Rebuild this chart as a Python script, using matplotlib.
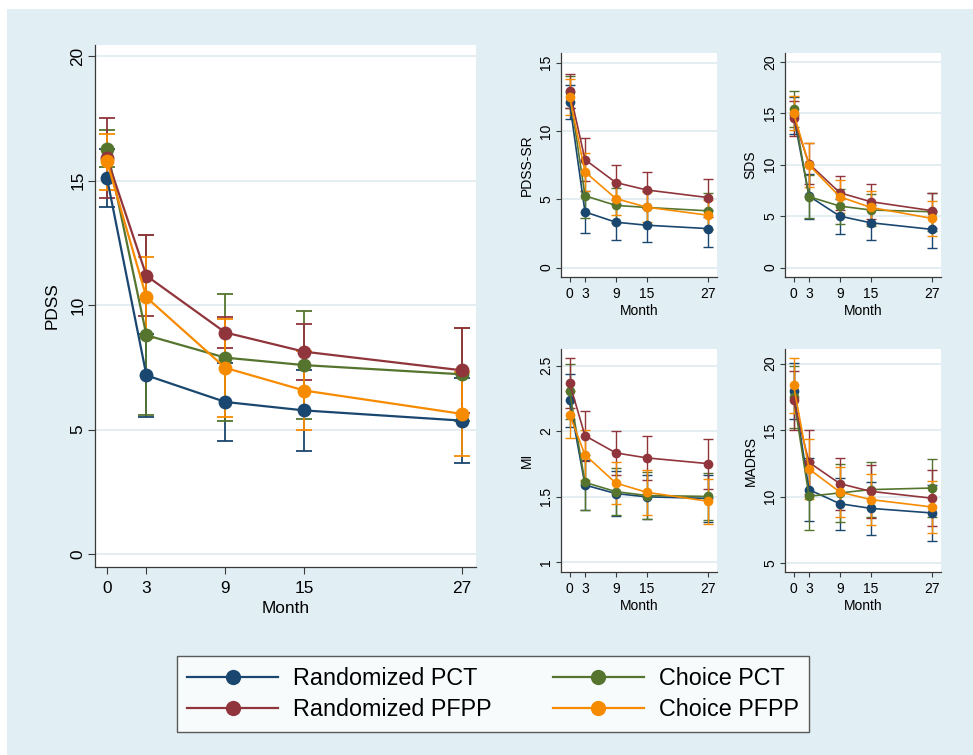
import matplotlib
matplotlib.use("Agg")
import matplotlib.pyplot as plt
from matplotlib.patches import Rectangle
from matplotlib.lines import Line2D
import numpy as np

plt.rcParams['font.family'] = ['Liberation Sans', 'DejaVu Sans']

months = [0, 3, 9, 15, 27]
groups = ["Randomized PCT", "Randomized PFPP", "Choice PCT", "Choice PFPP"]
colors = ["#1a476f", "#90353b", "#55752f", "#f78b00"]

# ---- PDSS (main) : mean, lower, upper ----
pdss_mean = {
    "Randomized PCT":  [15.11, 7.18, 6.11, 5.77, 5.36],
    "Randomized PFPP": [15.91, 11.18, 8.90, 8.13, 7.38],
    "Choice PCT":      [16.28, 8.79, 7.89, 7.59, 7.22],
    "Choice PFPP":     [15.78, 10.31, 7.48, 6.57, 5.63],
}
pdss_lo = {
    "Randomized PCT":  [13.94, 5.52, 4.56, 4.14, 3.65],
    "Randomized PFPP": [14.31, 9.55, 8.26, 7.00, 5.66],
    "Choice PCT":      [15.53, 5.60, 5.33, 5.41, 5.34],
    "Choice PFPP":     [14.64, 8.67, 5.50, 5.00, 3.95],
}
pdss_hi = {
    "Randomized PCT":  [16.28, 8.84, 7.66, 7.40, 7.07],
    "Randomized PFPP": [17.50, 12.81, 9.54, 9.26, 9.10],
    "Choice PCT":      [17.03, 12.80, 10.45, 9.77, 9.10],
    "Choice PFPP":     [16.88, 11.95, 9.46, 8.14, 7.31],
}

# ---- small panels: mean and half-width of CI ----
sr_mean = {
    "Randomized PCT":  [12.10, 4.07, 3.32, 3.10, 2.85],
    "Randomized PFPP": [12.95, 7.90, 6.22, 5.68, 5.12],
    "Choice PCT":      [12.85, 5.25, 4.55, 4.40, 4.15],
    "Choice PFPP":     [12.50, 7.00, 5.05, 4.42, 3.83],
}
sr_hw = {
    "Randomized PCT":  [1.25, 1.55, 1.30, 1.25, 1.35],
    "Randomized PFPP": [1.25, 1.55, 1.27, 1.32, 1.39],
    "Choice PCT":      [1.20, 1.60, 1.30, 1.20, 1.30],
    "Choice PFPP":     [1.30, 1.40, 1.20, 1.10, 1.10],
}
sds_mean = {
    "Randomized PCT":  [14.80, 6.95, 5.00, 4.36, 3.71],
    "Randomized PFPP": [14.55, 10.10, 7.28, 6.41, 5.53],
    "Choice PCT":      [15.41, 6.90, 5.98, 5.60, 5.43],
    "Choice PFPP":     [15.02, 9.98, 6.89, 5.85, 4.78],
}
sds_hw = {
    "Randomized PCT":  [1.80, 2.20, 1.70, 1.70, 1.80],
    "Randomized PFPP": [1.70, 2.00, 1.66, 1.72, 1.70],
    "Choice PCT":      [1.73, 2.10, 1.70, 1.60, 1.85],
    "Choice PFPP":     [1.65, 2.10, 1.60, 1.60, 1.70],
}
mi_mean = {
    "Randomized PCT":  [2.235, 1.590, 1.525, 1.500, 1.488],
    "Randomized PFPP": [2.368, 1.966, 1.835, 1.797, 1.753],
    "Choice PCT":      [2.305, 1.610, 1.540, 1.510, 1.503],
    "Choice PFPP":     [2.127, 1.820, 1.605, 1.535, 1.466],
}
mi_hw = {
    "Randomized PCT":  [0.20, 0.19, 0.17, 0.17, 0.18],
    "Randomized PFPP": [0.19, 0.19, 0.17, 0.17, 0.19],
    "Choice PCT":      [0.21, 0.21, 0.18, 0.18, 0.18],
    "Choice PFPP":     [0.18, 0.19, 0.16, 0.17, 0.17],
}
madrs_mean = {
    "Randomized PCT":  [17.92, 10.52, 9.46, 9.11, 8.76],
    "Randomized PFPP": [17.24, 12.57, 10.97, 10.39, 9.87],
    "Choice PCT":      [17.49, 10.02, 10.27, 10.52, 10.64],
    "Choice PFPP":     [18.37, 12.07, 10.34, 9.77, 9.21],
}
madrs_hw = {
    "Randomized PCT":  [2.10, 2.40, 1.95, 1.98, 2.13],
    "Randomized PFPP": [2.20, 2.40, 1.95, 2.00, 2.10],
    "Choice PCT":      [2.30, 2.55, 2.20, 2.05, 2.20],
    "Choice PFPP":     [2.05, 2.25, 1.85, 1.90, 1.95],
}

W, H = 973, 755
fig = plt.figure(figsize=(W / 100, H / 100), dpi=100)
fig.patch.set_facecolor("white")
fig.add_artist(Rectangle((7 / W, 0), 1, 1 - 9 / H, transform=fig.transFigure,
                         facecolor="#e1eef4", edgecolor="none", zorder=0))

def ax_px(left, top, right, bottom):
    return fig.add_axes([left / W, 1 - bottom / H, (right - left) / W, (bottom - top) / H])

draw_order = [0, 2, 1, 3]

def style(ax, yticks, ylim, xlim, ylabel, fs, ticklen, xpad, xlabpad, ylabpad):
    ax.set_facecolor("white")
    for s in ["top", "right"]:
        ax.spines[s].set_visible(False)
    for s in ["left", "bottom"]:
        ax.spines[s].set_color("#3a3a3a")
        ax.spines[s].set_linewidth(0.9)
    ax.set_ylim(*ylim)
    ax.set_xlim(*xlim)
    ax.set_yticks(yticks)
    ax.set_xticks(months)
    ax.set_xticklabels([str(m) for m in months])
    ax.set_yticklabels([("%g" % t) for t in yticks], rotation=90, va="center")
    ax.tick_params(axis="both", direction="out", length=ticklen, width=0.8,
                   color="#3a3a3a", labelsize=fs, pad=2)
    ax.tick_params(axis="x", pad=xpad)
    ax.yaxis.grid(True, color="#e4edf1", linewidth=1.4)
    ax.set_axisbelow(True)
    ax.set_ylabel(ylabel, fontsize=fs, labelpad=ylabpad)
    ax.set_xlabel("Month", fontsize=fs, labelpad=xlabpad)

def plot_series(ax, means, lo, hi, ms, lw, cap, elw):
    for i in draw_order:
        g = groups[i]
        m = np.array(means[g]); l = np.array(lo[g]); h = np.array(hi[g])
        ax.errorbar(months, m, yerr=[m - l, h - m], fmt="none", ecolor=colors[i],
                    elinewidth=elw, capsize=cap, capthick=elw, zorder=2)
    for i in draw_order:
        g = groups[i]
        ax.plot(months, means[g], color=colors[i], lw=lw, marker="o", ms=ms,
                markeredgewidth=0, zorder=3)

# main panel
ax = ax_px(95, 45, 476, 567)
plot_series(ax, pdss_mean, pdss_lo, pdss_hi, ms=10, lw=1.6, cap=5.5, elw=1.3)
style(ax, [0, 5, 10, 15, 20], (-0.52, 20.45), (-0.91, 28.06), "PDSS", 12.4, 5,
      xpad=5, xlabpad=4, ylabpad=8)

def small(left, top, right, bottom, means, hw, yticks, ylim, ylabel):
    a = ax_px(left, top, right, bottom)
    lo = {g: list(np.array(means[g]) - np.array(hw[g])) for g in groups}
    hi = {g: list(np.array(means[g]) + np.array(hw[g])) for g in groups}
    plot_series(a, means, lo, hi, ms=7, lw=1.2, cap=3.6, elw=1.0)
    style(a, yticks, ylim, (-1.67, 28.69), ylabel, 10, 3.5,
          xpad=4, xlabpad=2, ylabpad=4)
    return a

small(561, 53, 717, 277, sr_mean, sr_hw, [0, 5, 10, 15], (-0.69, 15.70), "PDSS-SR")
small(785, 53, 941, 277, sds_mean, sds_hw, [0, 5, 10, 15, 20], (-0.92, 20.88), "SDS")
small(561, 349, 717, 572, mi_mean, mi_hw, [1, 1.5, 2, 2.5], (0.927, 2.627), "MI")
small(785, 349, 941, 572, madrs_mean, madrs_hw, [5, 10, 15, 20], (4.32, 21.1), "MADRS")

# legend (column-major: col 1 = Randomized, col 2 = Choice)
handles = [Line2D([0], [0], color=colors[i], lw=1.6, marker="o", ms=11,
                  markeredgewidth=0) for i in range(4)]
leg = fig.legend(handles, groups,
                 ncol=2, loc="center", bbox_to_anchor=(493 / W, 1 - 694 / H),
                 fontsize=16.8, frameon=True, fancybox=False, handlelength=3.9,
                 handletextpad=0.65, columnspacing=2.6, labelspacing=0.35,
                 borderpad=0.45, borderaxespad=0)
leg.get_frame().set_edgecolor("#333333")
leg.get_frame().set_linewidth(1.0)

fig.savefig("out.png", dpi=100, facecolor=fig.get_facecolor())
